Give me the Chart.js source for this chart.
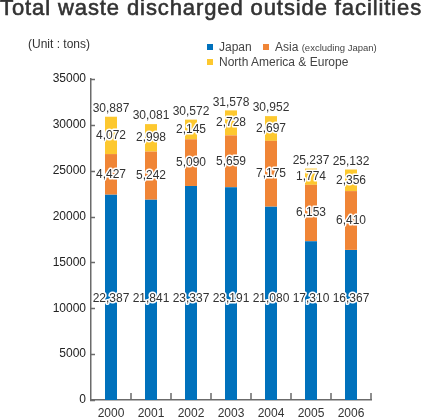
<!DOCTYPE html>
<html>
<head>
<meta charset="utf-8">
<script src="https://cdn.jsdelivr.net/npm/chart.js@4/dist/chart.umd.min.js"></script>
<style>
  html, body { margin:0; padding:0; background:#fff; }
  #wrap { position:relative; width:427px; height:419px; overflow:hidden; font-family:"Liberation Sans", Arial, sans-serif; color:#333; }
  #title { position:absolute; left:0; top:-5px; font-size:22px; font-weight:normal; -webkit-text-stroke:0.6px #333; white-space:nowrap; color:#333; letter-spacing:0.9px; }
  #unit { position:absolute; left:28px; top:37px; font-size:12px; color:#333; }
  .lg { position:absolute; font-size:12px; color:#444; white-space:nowrap; }
  .sq { display:inline-block; width:6px; height:6px; margin-right:6px; vertical-align:1px; }
  .small { font-size:9.5px; }
  canvas { position:absolute; left:0; top:0; }
</style>
</head>
<body>
<div id="wrap">
  <canvas id="c" width="427" height="419"></canvas>
  <div id="title">Total waste discharged outside facilities</div>
  <div id="unit">(Unit : tons)</div>
  <div class="lg" style="left:207px; top:40px;"><span class="sq" style="background:#0071BC"></span>Japan</div>
  <div class="lg" style="left:263px; top:40px;"><span class="sq" style="background:#F08536"></span>Asia <span class="small">(excluding Japan)</span></div>
  <div class="lg" style="left:207px; top:55px;"><span class="sq" style="background:#FDC82F"></span>North America &amp; Europe</div>
</div>
<script>
const years = ["2000","2001","2002","2003","2004","2005","2006"];
const japan = [22387, 21841, 23337, 23191, 21080, 17310, 16367];
const asia = [4427, 5242, 5090, 5659, 7175, 6153, 6410];
const naEurope = [4072, 2998, 2145, 2728, 2697, 1774, 2356];
const totals = [30887, 30081, 30572, 31578, 30952, 25237, 25132];
const yTicks = [0, 5000, 10000, 15000, 20000, 25000, 30000, 35000];

const fmt = v => v.toLocaleString('en-US');

const labelPlugin = {
  id: 'labels',
  afterDatasetsDraw(chart) {
    const ctx = chart.ctx;
    const ys = chart.scales.y;
    ctx.save();
    ctx.font = '12px "Liberation Sans", Arial, sans-serif';
    ctx.textAlign = 'center';
    ctx.textBaseline = 'middle';
    ctx.lineJoin = 'round';
    const draw = (t, x, y) => {
      ctx.strokeStyle = '#fff'; ctx.lineWidth = 3;
      ctx.strokeText(t, x, y);
      ctx.fillStyle = '#333';
      ctx.fillText(t, x, y);
    };
    chart.data.datasets.forEach((ds, di) => {
      const meta = chart.getDatasetMeta(di);
      meta.data.forEach((bar, i) => {
        let y;
        if (di === 0) {
          y = ys.getPixelForValue(11000);
        } else {
          y = (bar.y + bar.base) / 2;
        }
        draw(fmt(ds.data[i]), bar.x, y);
        if (di === chart.data.datasets.length - 1) {
          draw(fmt(totals[i]), bar.x, bar.y - 8);
        }
      });
    });
    ctx.restore();
  },
  afterDraw(chart) {
    const ctx = chart.ctx;
    const ys = chart.scales.y, xs = chart.scales.x;
    const a = chart.chartArea;
    ctx.save();
    ctx.strokeStyle = '#6b6b6b';
    ctx.lineWidth = 1.5;
    ctx.beginPath();
    yTicks.forEach(v => {
      const y = Math.round(ys.getPixelForValue(v)) + 0.5;
      ctx.moveTo(a.left - 1, y); ctx.lineTo(a.left + 4, y);
    });
    const n = years.length;
    for (let i = 1; i <= n; i++) {
      const x = Math.round(xs.getPixelForValue(i - 0.5));
      ctx.moveTo(x, a.bottom); ctx.lineTo(x, a.bottom - 7);
    }
    ctx.stroke();
    ctx.restore();
  }
};

new Chart(document.getElementById('c'), {
  type: 'bar',
  data: {
    labels: years,
    datasets: [
      { label: 'Japan', data: japan, backgroundColor: '#0071BC' },
      { label: 'Asia (excluding Japan)', data: asia, backgroundColor: '#F08536' },
      { label: 'North America & Europe', data: naEurope, backgroundColor: '#FDC82F' }
    ]
  },
  options: {
    responsive: false,
    animation: false,
    devicePixelRatio: 1,
    layout: { padding: { left: 0, top: 79, right: 56, bottom: 0 } },
    plugins: { legend: { display: false }, tooltip: { enabled: false }, title: { display: false } },
    datasets: { bar: { categoryPercentage: 1, barPercentage: 0.3 } },
    scales: {
      x: {
        stacked: true,
        grid: { display: false, drawTicks: false },
        border: { display: true, color: '#6b6b6b', width: 1.5 },
        ticks: { color: '#333', padding: 6, font: { size: 12, family: '"Liberation Sans", Arial, sans-serif' }, maxRotation: 0 },
        afterFit(s) { s.height = 19; }
      },
      y: {
        stacked: true,
        min: 0, max: 35000,
        afterBuildTicks(s) { s.ticks = yTicks.map(v => ({ value: v })); },
        grid: { display: false, drawTicks: false },
        border: { display: true, color: '#6b6b6b', width: 1.5 },
        ticks: { color: '#222', padding: 5, callback: v => String(v), font: { size: 12, family: '"Liberation Sans", Arial, sans-serif' } },
        afterFit(s) { s.width = 91; }
      }
    }
  },
  plugins: [labelPlugin]
});
</script>
</body>
</html>
